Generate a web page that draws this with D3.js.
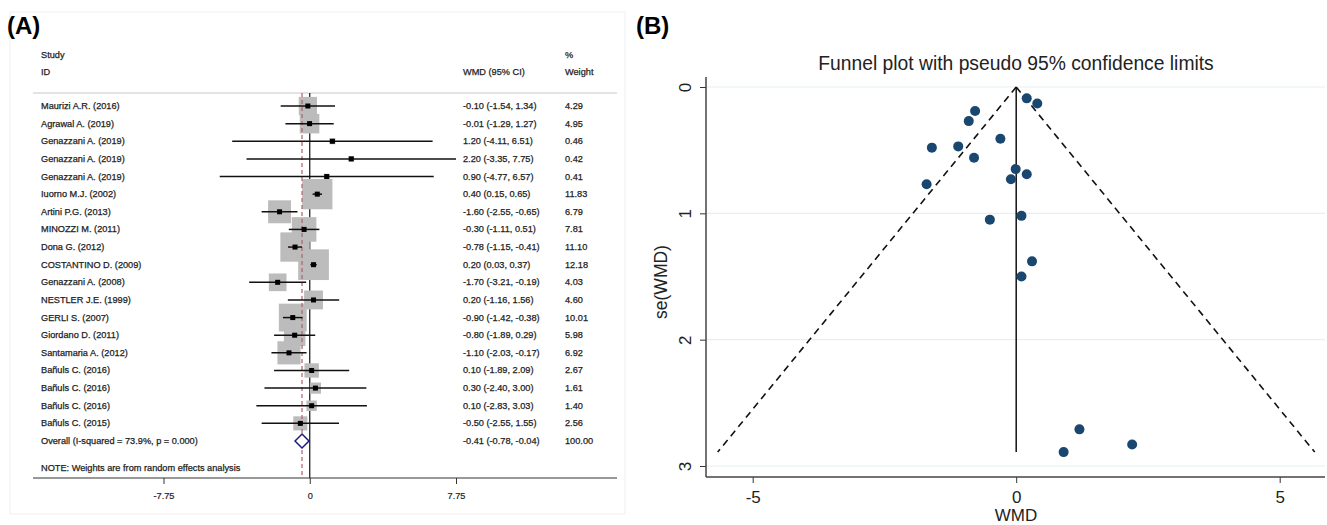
<!DOCTYPE html>
<html>
<head>
  <title>Forest and funnel plot</title>
  <script src="https://d3js.org/d3.v7.min.js"></script>
  <style>
    body { margin: 0; background: #fff; }
    svg { font-family: "Liberation Sans", Arial, sans-serif; }
  </style>
</head>
<body>
  <div id="chart"></div>
  <script>
    // Forest plot data (panel A)
    const studies = ["Maurizi A.R. (2016)", "Agrawal A. (2019)", "Genazzani A. (2019)", "Genazzani A. (2019)",
      "Genazzani A. (2019)", "Iuorno M.J. (2002)", "Artini P.G. (2013)", "MINOZZI M. (2011)", "Dona G. (2012)",
      "COSTANTINO D. (2009)", "Genazzani A. (2008)", "NESTLER J.E. (1999)", "GERLI S. (2007)", "Giordano D. (2011)",
      "Santamaria A. (2012)", "Bañuls C. (2016)", "Bañuls C. (2016)", "Bañuls C. (2016)", "Bañuls C. (2015)"];
    const wmd = [-0.10, -0.01, 1.20, 2.20, 0.90, 0.40, -1.60, -0.30, -0.78, 0.20, -1.70, 0.20, -0.90, -0.80, -1.10, 0.10, 0.30, 0.10, -0.50];
    const lower = [-1.54, -1.29, -4.11, -3.35, -4.77, 0.15, -2.55, -1.11, -1.15, 0.03, -3.21, -1.16, -1.42, -1.89, -2.03, -1.89, -2.40, -2.83, -2.55];
    const upper = [1.34, 1.27, 6.51, 7.75, 6.57, 0.65, -0.65, 0.51, -0.41, 0.37, -0.19, 1.56, -0.38, 0.29, -0.17, 2.09, 3.00, 3.03, 1.55];
    const weights = [4.29, 4.95, 0.46, 0.42, 0.41, 11.83, 6.79, 7.81, 11.10, 12.18, 4.03, 4.60, 10.01, 5.98, 6.92, 2.67, 1.61, 1.40, 2.56];
    const overall = { label: "Overall  (I-squared = 73.9%, p = 0.000)", wmd: -0.41, lower: -0.78, upper: -0.04, weight: 100.00 };
    const forestTicks = [-7.75, 0, 7.75];
    const forestTickLabels = ["-7.75", "0", "7.75"];

    // Funnel plot data (panel B)
    const funnelWmd = [-0.10, -0.01, 1.20, 2.20, 0.90, 0.40, -1.60, -0.30, -0.78, 0.20, -1.70, 0.20, -0.90, -0.80, -1.10, 0.10, 0.30, 0.10, -0.50];
    const funnelSe = [0.73, 0.65, 2.71, 2.83, 2.89, 0.13, 0.48, 0.41, 0.19, 0.09, 0.77, 0.69, 0.27, 0.56, 0.47, 1.02, 1.38, 1.50, 1.05];
    const funnelCenter = 0;
    const funnelSeMax = 2.89;
    const funnelXTicks = [-5, 0, 5];
    const funnelYTicks = [0, 1, 2, 3];

    const svg = d3.select("#chart").append("svg")
      .attr("width", 1327)
      .attr("height", 525);

    // ---------- Panel A ----------
    const gA = svg.append("g");

    gA.append("rect")
      .attr("x", 10).attr("y", 12).attr("width", 615).attr("height", 502)
      .attr("fill", "none").attr("stroke", "#efefef");

    gA.append("text").attr("x", 7).attr("y", 34)
      .attr("font-size", 24).attr("font-weight", "bold").text("(A)");

    const x = d3.scaleLinear().domain([-7.75, 7.75]).range([163.5, 456]);
    const rows = d3.range(studies.length + 1);
    const y = d3.scalePoint().domain(rows).range([106, 441]);
    const boxSize = w => 8.8 * Math.sqrt(w);

    const fLeft = 33, fRight = 617, fTop = 93, axisY = 478;
    const colText = 41, colCI = 463, colW = 565;
    const small = 9.2;

    const styleText = sel => sel.attr("font-size", small).attr("fill", "#222")
      .attr("stroke", "#222").attr("stroke-width", 0.25);

    const header = gA.append("g").call(styleText);
    header.append("text").attr("x", colText).attr("y", 58).text("Study");
    header.append("text").attr("x", colText).attr("y", 75).text("ID");
    header.append("text").attr("x", colCI).attr("y", 75).text("WMD (95% CI)");
    header.append("text").attr("x", colW).attr("y", 58).text("%");
    header.append("text").attr("x", colW).attr("y", 75).text("Weight");

    gA.append("line").attr("x1", fLeft).attr("x2", fRight).attr("y1", fTop).attr("y2", fTop)
      .attr("stroke", "#c8c8c8").attr("stroke-width", 1);

    // null line
    gA.append("line").attr("x1", x(0)).attr("x2", x(0)).attr("y1", fTop).attr("y2", axisY)
      .attr("stroke", "#111").attr("stroke-width", 1.2);

    const idx = d3.range(studies.length);

    // weight boxes
    gA.selectAll(".wbox").data(idx).enter().append("rect")
      .attr("class", "wbox")
      .attr("x", i => x(wmd[i]) - boxSize(weights[i]) / 2)
      .attr("y", i => y(i) - boxSize(weights[i]) / 2)
      .attr("width", i => boxSize(weights[i]))
      .attr("height", i => boxSize(weights[i]))
      .attr("fill", "#bcbcbc");

    // overall dashed line
    gA.append("line").attr("x1", x(overall.wmd)).attr("x2", x(overall.wmd)).attr("y1", fTop).attr("y2", axisY)
      .attr("stroke", "#b0606a").attr("stroke-width", 1.2).attr("stroke-dasharray", "4,3");

    // CI lines
    gA.selectAll(".ci").data(idx).enter().append("line")
      .attr("class", "ci")
      .attr("x1", i => x(lower[i])).attr("x2", i => x(upper[i]))
      .attr("y1", i => y(i)).attr("y2", i => y(i))
      .attr("stroke", "#111").attr("stroke-width", 1.5);

    gA.selectAll(".pt").data(idx).enter().append("rect")
      .attr("class", "pt")
      .attr("x", i => x(wmd[i]) - 2.5).attr("y", i => y(i) - 2.5)
      .attr("width", 5).attr("height", 5).attr("fill", "#000");

    // overall diamond
    const oy = y(studies.length);
    gA.append("path")
      .attr("d", `M${x(overall.lower)},${oy} L${x(overall.wmd)},${oy - 7} L${x(overall.upper)},${oy} L${x(overall.wmd)},${oy + 7} Z`)
      .attr("fill", "#fff").attr("stroke", "#1c1c7a").attr("stroke-width", 1.5);

    // row labels
    const rowText = gA.append("g").call(styleText);
    rowText.selectAll(".study").data(idx).enter().append("text")
      .attr("x", colText).attr("y", i => y(i) + 3).text(i => studies[i]);
    rowText.selectAll(".ciTxt").data(idx).enter().append("text")
      .attr("x", colCI).attr("y", i => y(i) + 3)
      .text(i => `${wmd[i].toFixed(2)} (${lower[i].toFixed(2)}, ${upper[i].toFixed(2)})`);
    rowText.selectAll(".wTxt").data(idx).enter().append("text")
      .attr("x", colW).attr("y", i => y(i) + 3).text(i => weights[i].toFixed(2));
    rowText.append("text").attr("x", colText).attr("y", oy + 3).text(overall.label);
    rowText.append("text").attr("x", colCI).attr("y", oy + 3)
      .text(`${overall.wmd.toFixed(2)} (${overall.lower.toFixed(2)}, ${overall.upper.toFixed(2)})`);
    rowText.append("text").attr("x", colW).attr("y", oy + 3).text(overall.weight.toFixed(2));
    rowText.append("text").attr("x", colText).attr("y", 471).text("NOTE: Weights are from random effects analysis");

    // axis
    gA.append("line").attr("x1", fLeft).attr("x2", fRight).attr("y1", axisY).attr("y2", axisY)
      .attr("stroke", "#333").attr("stroke-width", 1.2);
    const xAxisA = gA.append("g").attr("transform", `translate(0,${axisY})`)
      .call(d3.axisBottom(x).tickValues(forestTicks).tickFormat((d, i) => forestTickLabels[i]).tickSize(6));
    xAxisA.select(".domain").remove();
    xAxisA.selectAll("line").attr("stroke", "#333");
    xAxisA.selectAll("text").attr("font-size", small).attr("fill", "#222").attr("stroke", "#222").attr("stroke-width", 0.2)
      .attr("font-family", "Liberation Sans, Arial").attr("dy", "1.3em");

    // ---------- Panel B ----------
    const gB = svg.append("g");
    gB.append("text").attr("x", 636).attr("y", 34)
      .attr("font-size", 24).attr("font-weight", "bold").text("(B)");

    const fx = d3.scaleLinear().domain([-5, 5]).range([752.7, 1279.7]);
    const fy = d3.scaleLinear().domain([0, 3]).range([87, 466]);
    const pLeft = 706, pRight = 1325, pTop = 77, pBottom = 477;

    gB.append("text").attr("x", 1016).attr("y", 70).attr("text-anchor", "middle")
      .attr("font-size", 19.3).attr("fill", "#222").text("Funnel plot with pseudo 95% confidence limits");

    // gridlines
    gB.selectAll(".grid").data(funnelYTicks).enter().append("line")
      .attr("x1", pLeft).attr("x2", pRight).attr("y1", d => fy(d)).attr("y2", d => fy(d))
      .attr("stroke", "#e6eff1").attr("stroke-width", 1.2);

    // axes
    const yAxisB = gB.append("g").attr("transform", `translate(${pLeft},0)`)
      .call(d3.axisLeft(fy).tickValues(funnelYTicks).tickFormat(d => String(d)).tickSize(6));
    yAxisB.select(".domain").remove();
    yAxisB.selectAll("line").attr("stroke", "#333");
    yAxisB.selectAll("text").attr("font-size", 17).attr("fill", "#222").attr("font-family", "Liberation Sans, Arial")
      .attr("x", 0).attr("dy", 0)
      .attr("transform", "translate(-15,0) rotate(-90)")
      .attr("text-anchor", "middle");

    const xAxisB = gB.append("g").attr("transform", `translate(0,${pBottom})`)
      .call(d3.axisBottom(fx).tickValues(funnelXTicks).tickFormat(d => String(d)).tickSize(6));
    xAxisB.select(".domain").remove();
    xAxisB.selectAll("line").attr("stroke", "#333");
    xAxisB.selectAll("text").attr("font-size", 17).attr("fill", "#222").attr("font-family", "Liberation Sans, Arial").attr("dy", "1.0em");

    gB.append("line").attr("x1", pLeft).attr("x2", pLeft).attr("y1", pTop).attr("y2", pBottom)
      .attr("stroke", "#444").attr("stroke-width", 1.5);
    gB.append("line").attr("x1", pLeft).attr("x2", pRight).attr("y1", pBottom).attr("y2", pBottom)
      .attr("stroke", "#444").attr("stroke-width", 1.5);

    gB.append("text").attr("x", 1016).attr("y", 521).attr("text-anchor", "middle")
      .attr("font-size", 17).attr("fill", "#222").text("WMD");
    gB.append("text").attr("transform", `translate(667,282) rotate(-90)`).attr("text-anchor", "middle")
      .attr("font-size", 17.5).attr("fill", "#222").text("se(WMD)");

    // funnel lines
    const seLine = [0, funnelSeMax];
    const lineGen = d3.line().x(d => fx(d[0])).y(d => fy(d[1]));
    gB.append("path").datum(seLine.map(s => [funnelCenter - 1.96 * s, s]))
      .attr("d", lineGen).attr("fill", "none").attr("stroke", "#111").attr("stroke-width", 1.6).attr("stroke-dasharray", "7,5");
    gB.append("path").datum(seLine.map(s => [funnelCenter + 1.96 * s, s]))
      .attr("d", lineGen).attr("fill", "none").attr("stroke", "#111").attr("stroke-width", 1.6).attr("stroke-dasharray", "7,5");
    gB.append("path").datum(seLine.map(s => [funnelCenter, s]))
      .attr("d", lineGen).attr("fill", "none").attr("stroke", "#111").attr("stroke-width", 1.5);

    // points
    gB.selectAll(".dot").data(d3.range(funnelWmd.length)).enter().append("circle")
      .attr("cx", i => fx(funnelWmd[i])).attr("cy", i => fy(funnelSe[i]))
      .attr("r", 5).attr("fill", "#1a476f");
  </script>
</body>
</html>
